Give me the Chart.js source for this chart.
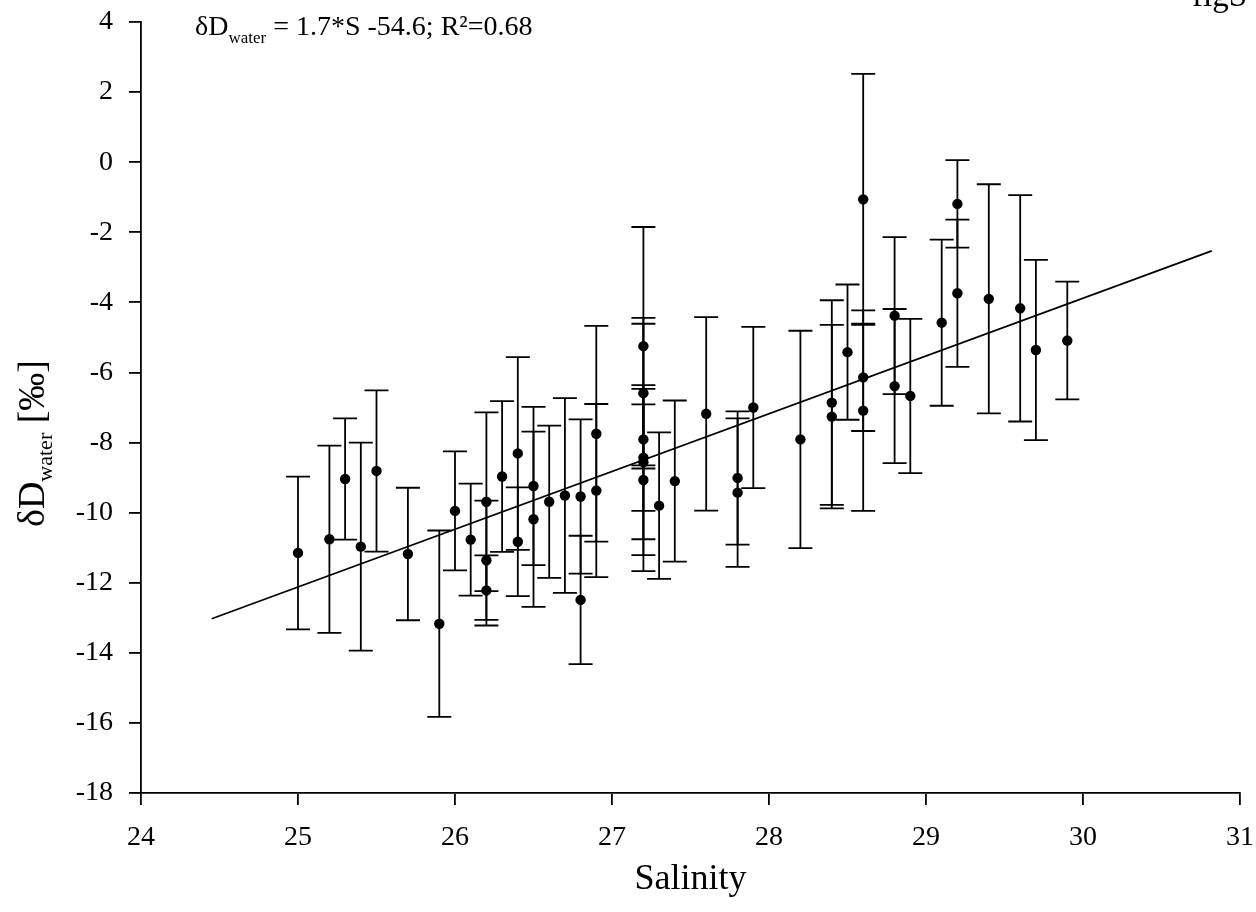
<!DOCTYPE html>
<html>
<head>
<meta charset="utf-8">
<script src="https://cdn.jsdelivr.net/npm/chart.js@4.4.1/dist/chart.umd.min.js"></script>
<style>
  html, body { margin: 0; padding: 0; background: #fff; }
  #wrap { width: 1256px; height: 912px; position: relative; }
</style>
</head>
<body>
<div id="wrap"><canvas id="chart"></canvas></div>
<script>
// salinity of each sample
const salinity = [
  25.0, 25.2, 25.3, 25.4, 25.5, 25.7, 25.9, 26.0, 26.1,
  26.2, 26.2, 26.2, 26.3, 26.4, 26.4, 26.5, 26.5, 26.6, 26.7,
  26.8, 26.8, 26.9, 26.9,
  27.2, 27.2, 27.2, 27.2, 27.2, 27.2, 27.3, 27.4, 27.6, 27.8, 27.8, 27.9,
  28.2, 28.4, 28.4, 28.5, 28.6, 28.6, 28.6, 28.8, 28.8, 28.9,
  29.1, 29.2, 29.2, 29.4, 29.6, 29.7, 29.9
];
// dD water (permil)
const dDwater = [
  -11.15, -10.76, -9.04, -10.97, -8.81, -11.18, -13.17, -9.95, -10.77,
  -9.69, -11.36, -12.22, -8.97, -8.31, -10.83, -9.24, -10.19, -9.69, -9.51,
  -9.54, -12.49, -7.75, -9.37,
  -5.25, -6.59, -7.91, -8.43, -8.56, -9.07, -9.80, -9.10, -7.18, -9.01, -9.43, -7.00,
  -7.91, -6.86, -7.26, -5.42, -1.06, -6.14, -7.09, -4.38, -6.39, -6.67,
  -4.58, -1.19, -3.74, -3.90, -4.17, -5.36, -5.09
];
// +/- error of dD water
const dDerror = [
  2.18, 2.67, 1.73, 2.97, 2.30, 1.89, 2.66, 1.70, 1.60,
  2.55, 1.70, 1.00, 2.15, 2.75, 1.55, 2.26, 2.50, 2.17, 2.78,
  2.20, 1.83, 3.08, 2.47,
  3.40, 2.15, 3.30, 1.52, 2.20, 2.60, 2.09, 2.30, 2.76, 1.90, 2.12, 2.30,
  3.10, 2.92, 2.62, 1.93, 3.58, 1.53, 2.86, 2.24, 2.20, 2.20,
  2.37, 1.25, 2.10, 3.27, 3.23, 2.57, 1.68
];
// regression line end points as drawn
const fitX = [24.45, 30.82];
const fitY = [-13.03, -2.53];

const xMin = 24, xMax = 31, xStep = 1;
const yMin = -18, yMax = 4, yStep = 2;

const serif = '"Liberation Serif", "Times New Roman", serif';

const errorBars = {
  id: 'errorBars',
  beforeDatasetsDraw(chart) {
    const { ctx, scales: { x, y } } = chart;
    ctx.save();
    ctx.strokeStyle = '#000';
    ctx.lineWidth = 1.8;
    salinity.forEach((s, i) => {
      const px = x.getPixelForValue(s);
      const top = y.getPixelForValue(dDwater[i] + dDerror[i]);
      const bot = y.getPixelForValue(dDwater[i] - dDerror[i]);
      ctx.beginPath();
      ctx.moveTo(px, top); ctx.lineTo(px, bot);
      ctx.moveTo(px - 12, top); ctx.lineTo(px + 12, top);
      ctx.moveTo(px - 12, bot); ctx.lineTo(px + 12, bot);
      ctx.stroke();
    });
    ctx.restore();
  }
};

const textBits = {
  id: 'textBits',
  afterDraw(chart) {
    const { ctx, chartArea } = chart;
    ctx.save();
    ctx.fillStyle = '#000';
    ctx.textBaseline = 'alphabetic';

    // equation at the top
    let x = 195;
    ctx.font = '28px ' + serif;
    ctx.textAlign = 'left';
    ctx.fillText('δD', x, 35);
    x += ctx.measureText('δD').width;
    ctx.font = '17px ' + serif;
    ctx.fillText('water', x, 43);
    x += ctx.measureText('water').width;
    ctx.font = '28px ' + serif;
    ctx.fillText(' = 1.7*S -54.6; R²=0.68', x, 35);

    // cut-off label top right
    ctx.font = '33px ' + serif;
    ctx.fillText('figS', 1192, 6);

    // x axis title
    ctx.font = '36px ' + serif;
    ctx.textAlign = 'center';
    ctx.fillText('Salinity', (chartArea.left + chartArea.right) / 2, 889);

    // y axis title, rotated
    ctx.translate(44, 527);
    ctx.rotate(-Math.PI / 2);
    ctx.textAlign = 'left';
    let t = 0;
    ctx.font = '38px ' + serif;
    ctx.fillText('δD', t, 0);
    t += ctx.measureText('δD').width;
    ctx.font = '22px ' + serif;
    ctx.fillText('water', t, 8);
    t += ctx.measureText('water').width;
    ctx.font = '38px ' + serif;
    ctx.fillText(' [‰]', t, 0);
    ctx.restore();
  }
};

// keep the plot box where the figure has it, not where tick labels would push it
function noEdgePadding(scale) {
  scale.paddingTop = 0;
  scale.paddingBottom = 0;
  scale.paddingLeft = 0;
  scale.paddingRight = 0;
}

const axisStyle = {
  grid: { drawOnChartArea: false, drawTicks: true, tickLength: 12, color: '#000', lineWidth: 1.8 },
  border: { display: true, color: '#000', width: 1.8 }
};

new Chart(document.getElementById('chart'), {
  type: 'scatter',
  data: {
    datasets: [
      {
        label: 'samples',
        data: salinity.map((s, i) => ({ x: s, y: dDwater[i] })),
        pointRadius: 5.2,
        pointBackgroundColor: '#000',
        pointBorderColor: '#000',
        pointBorderWidth: 0
      },
      {
        label: 'fit',
        type: 'line',
        data: fitX.map((s, i) => ({ x: s, y: fitY[i] })),
        borderColor: '#000',
        borderWidth: 1.7,
        pointRadius: 0,
        fill: false
      }
    ]
  },
  options: {
    responsive: true,
    maintainAspectRatio: false,
    animation: false,
    layout: { padding: { top: 22, right: 16, left: 0, bottom: 0 } },
    plugins: { legend: { display: false }, tooltip: { enabled: false } },
    scales: {
      x: {
        type: 'linear',
        min: xMin, max: xMax,
        ticks: { stepSize: xStep, color: '#000', font: { family: serif, size: 28 }, padding: 16, maxRotation: 0 },
        afterFit(scale) { scale.height = 119; noEdgePadding(scale); },
        ...axisStyle
      },
      y: {
        type: 'linear',
        min: yMin, max: yMax,
        ticks: { stepSize: yStep, color: '#000', font: { family: serif, size: 28 }, padding: 16 },
        afterFit(scale) { scale.width = 141; noEdgePadding(scale); },
        ...axisStyle
      }
    }
  },
  plugins: [errorBars, textBits]
});
</script>
</body>
</html>
